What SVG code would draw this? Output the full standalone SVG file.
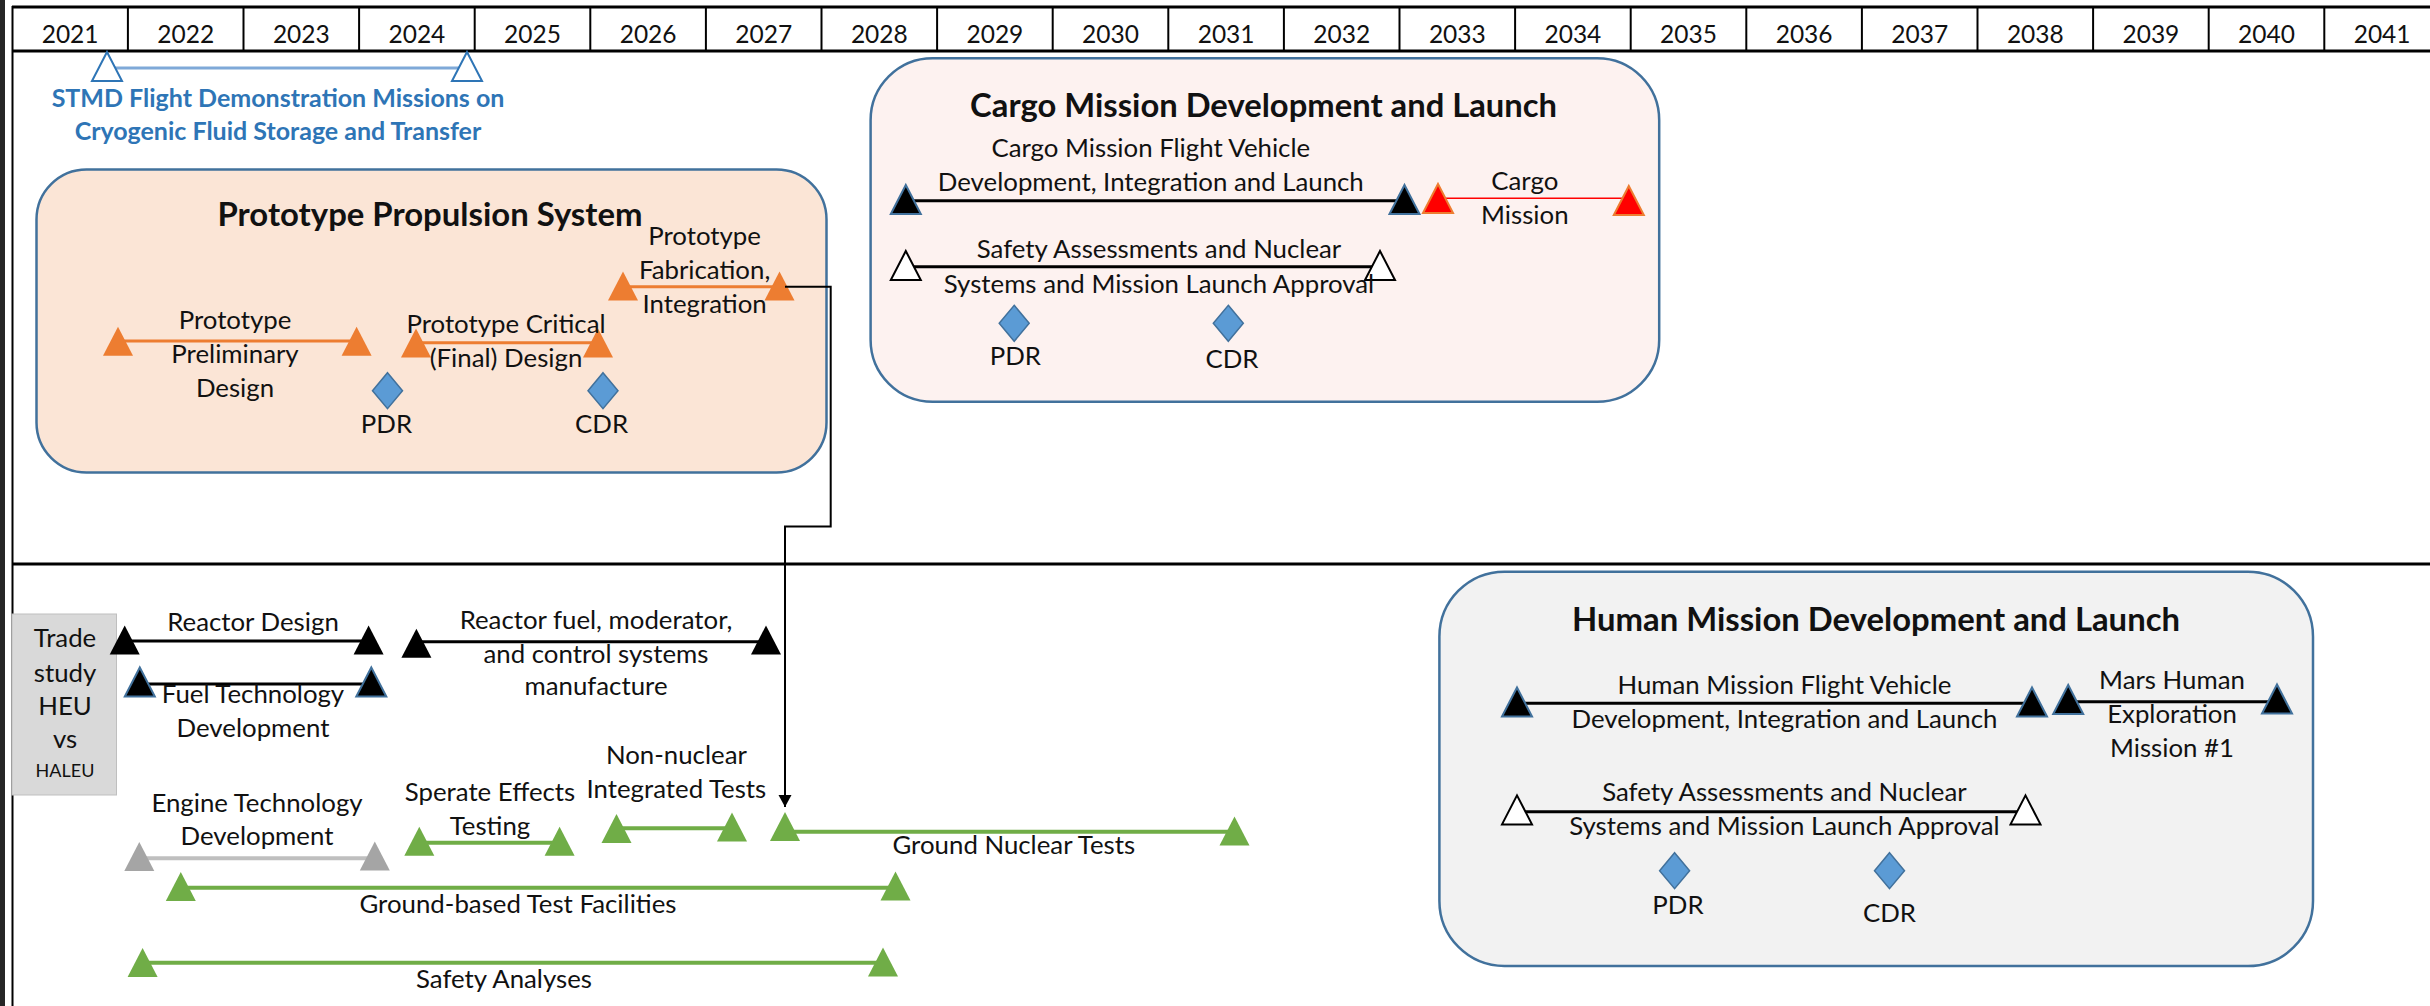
<svg xmlns="http://www.w3.org/2000/svg" xmlns:xlink="http://www.w3.org/1999/xlink" width="2430" height="1006" viewBox="0 0 2430 1006">
<style>
text{font-family:Lato,"Liberation Sans",sans-serif;fill:#111;text-anchor:middle}
.yr{font-size:24.5px}
.lb{font-size:25.8px}
.tt{font-size:32px;font-weight:bold}
.st{font-size:25px;font-weight:bold;fill:#2e75b6}
.sm{font-size:18px}
.grid{stroke:#000;fill:none}
.org{fill:#ed7d31}
.grn{fill:#70ad47}
.gry{fill:#a5a5a5}
.blk{fill:#000}
.bkb{fill:#000;stroke:#41719c;stroke-width:2}
.hol{fill:#fff;stroke:#000;stroke-width:2}
.hob{fill:#fff;stroke:#2e75b6;stroke-width:2}
.red{fill:#ff0000;stroke:#ed7d31;stroke-width:2}
.dia{fill:#5b9bd5;stroke:#41719c;stroke-width:1.5}
.box{stroke:#41719c;stroke-width:2.5}
.ln{fill:none;stroke-width:3}
</style>
<defs>
<path id="tri" d="M0,-15 L15,14 L-15,14 Z"/>
<path id="dia" d="M0,-18 L15,0 L0,18 L-15,0 Z"/>
<marker id="arr" markerUnits="userSpaceOnUse" markerWidth="14" markerHeight="14" viewBox="0 0 14 14" refX="12" refY="7" orient="auto">
<path d="M0,0.5 L12,7 L0,13.5 Z" fill="#000"/>
</marker>
</defs>
<rect width="2430" height="1006" fill="#fff"/>
<g id="frame">
<rect x="0" y="0" width="5" height="1006" fill="#262626"/>
<line class="grid" x1="12.5" y1="6" x2="12.5" y2="1006" stroke-width="2"/>
<line class="grid" x1="12" y1="7" x2="2430" y2="7" stroke-width="3"/>
<line class="grid" x1="12" y1="51" x2="2430" y2="51" stroke-width="3"/>
<line class="grid" x1="12" y1="564" x2="2430" y2="564" stroke-width="3"/>
<g stroke="#000" stroke-width="2">
<line x1="127.9" y1="7" x2="127.9" y2="51"/><line x1="243.5" y1="7" x2="243.5" y2="51"/><line x1="359.1" y1="7" x2="359.1" y2="51"/><line x1="474.7" y1="7" x2="474.7" y2="51"/><line x1="590.3" y1="7" x2="590.3" y2="51"/><line x1="705.9" y1="7" x2="705.9" y2="51"/><line x1="821.5" y1="7" x2="821.5" y2="51"/><line x1="937.1" y1="7" x2="937.1" y2="51"/><line x1="1052.7" y1="7" x2="1052.7" y2="51"/><line x1="1168.3" y1="7" x2="1168.3" y2="51"/><line x1="1283.9" y1="7" x2="1283.9" y2="51"/><line x1="1399.5" y1="7" x2="1399.5" y2="51"/><line x1="1515.1" y1="7" x2="1515.1" y2="51"/><line x1="1630.7" y1="7" x2="1630.7" y2="51"/><line x1="1746.3" y1="7" x2="1746.3" y2="51"/><line x1="1861.9" y1="7" x2="1861.9" y2="51"/><line x1="1977.5" y1="7" x2="1977.5" y2="51"/><line x1="2093.1" y1="7" x2="2093.1" y2="51"/><line x1="2208.7" y1="7" x2="2208.7" y2="51"/><line x1="2324.3" y1="7" x2="2324.3" y2="51"/>
</g>
<g>
<text x="70.1" y="43" class="yr">2021</text><text x="185.7" y="43" class="yr">2022</text><text x="301.3" y="43" class="yr">2023</text><text x="416.9" y="43" class="yr">2024</text><text x="532.5" y="43" class="yr">2025</text><text x="648.1" y="43" class="yr">2026</text><text x="763.7" y="43" class="yr">2027</text><text x="879.3" y="43" class="yr">2028</text><text x="994.9" y="43" class="yr">2029</text><text x="1110.5" y="43" class="yr">2030</text><text x="1226.1" y="43" class="yr">2031</text><text x="1341.7" y="43" class="yr">2032</text><text x="1457.3" y="43" class="yr">2033</text><text x="1572.9" y="43" class="yr">2034</text><text x="1688.5" y="43" class="yr">2035</text><text x="1804.1" y="43" class="yr">2036</text><text x="1919.7" y="43" class="yr">2037</text><text x="2035.3" y="43" class="yr">2038</text><text x="2150.9" y="43" class="yr">2039</text><text x="2266.5" y="43" class="yr">2040</text><text x="2382.1" y="43" class="yr">2041</text>
</g>
</g>

<g id="stmd">
<line x1="107" y1="68" x2="467" y2="68" stroke="#7fa9d8" stroke-width="3"/>
<use xlink:href="#tri" x="107" y="67" class="hob"/>
<use xlink:href="#tri" x="467" y="67" class="hob"/>
<text x="278" y="107" class="st">STMD Flight Demonstration Missions on</text>
<text x="278" y="139.5" class="st">Cryogenic Fluid Storage and Transfer</text>
</g>

<g id="prototype">
<rect x="36.5" y="169.5" width="790" height="303" rx="50" fill="#fbe5d6" class="box"/>
<text x="430" y="226" class="tt" textLength="425" lengthAdjust="spacingAndGlyphs">Prototype Propulsion System</text>
<line x1="118" y1="341" x2="357" y2="341" stroke="#ed7d31" class="ln"/>
<use xlink:href="#tri" x="118" y="341.7" class="org"/>
<use xlink:href="#tri" x="356.6" y="341.7" class="org"/>
<text x="235" y="329" class="lb">Prototype</text>
<text x="235" y="363" class="lb">Preliminary</text>
<text x="235" y="397" class="lb">Design</text>
<line x1="416" y1="342.7" x2="598" y2="342.7" stroke="#ed7d31" class="ln"/>
<use xlink:href="#tri" x="416" y="343.5" class="org"/>
<use xlink:href="#tri" x="598" y="343.5" class="org"/>
<text x="506" y="333" class="lb">Prototype Critical</text>
<text x="506" y="366.7" class="lb">(Final) Design</text>
<line x1="623" y1="286.7" x2="779" y2="286.7" stroke="#ed7d31" class="ln"/>
<use xlink:href="#tri" x="623" y="286.5" class="org"/>
<use xlink:href="#tri" x="779.5" y="286.5" class="org"/>
<text x="704.6" y="245" class="lb">Prototype</text>
<text x="704.6" y="279.3" class="lb">Fabrication,</text>
<text x="704.6" y="312.7" class="lb">Integration</text>
<use xlink:href="#dia" x="387.5" y="390.7" class="dia"/>
<use xlink:href="#dia" x="603" y="390.7" class="dia"/>
<text x="386.5" y="433" class="lb">PDR</text>
<text x="601.6" y="433" class="lb">CDR</text>
</g>

<g id="cargo">
<rect x="870.6" y="58.3" width="788.6" height="343.4" rx="62" fill="#fdf2f0" class="box"/>
<text x="1263.6" y="116.7" class="tt" textLength="587" lengthAdjust="spacingAndGlyphs">Cargo Mission Development and Launch</text>
<text x="1150.8" y="156.7" class="lb">Cargo Mission Flight Vehicle</text>
<text x="1150.8" y="190.7" class="lb">Development, Integration and Launch</text>
<line x1="906" y1="200.7" x2="1404" y2="200.7" stroke="#000" class="ln"/>
<use xlink:href="#tri" x="905.8" y="200" class="bkb"/>
<use xlink:href="#tri" x="1404.5" y="200" class="bkb"/>
<line x1="1438" y1="198.3" x2="1629" y2="198.3" stroke="#ff0000" stroke-width="1.5"/>
<use xlink:href="#tri" x="1438" y="199" class="red"/>
<use xlink:href="#tri" x="1628.8" y="201" class="red"/>
<text x="1524.8" y="190" class="lb">Cargo</text>
<text x="1524.8" y="224" class="lb">Mission</text>
<line x1="906" y1="266.7" x2="1380" y2="266.7" stroke="#000" class="ln"/>
<use xlink:href="#tri" x="905.8" y="266" class="hol"/>
<use xlink:href="#tri" x="1380" y="266" class="hol"/>
<text x="1159" y="258.3" class="lb">Safety Assessments and Nuclear</text>
<text x="1159" y="292.7" class="lb">Systems and Mission Launch Approval</text>
<use xlink:href="#dia" x="1014.2" y="323.3" class="dia"/>
<use xlink:href="#dia" x="1228.3" y="323.3" class="dia"/>
<text x="1015.3" y="365" class="lb">PDR</text>
<text x="1232" y="368.3" class="lb">CDR</text>
</g>

<g id="trade-study">
<rect x="12" y="614" width="104.5" height="181" fill="#d9d9d9" stroke="#bfbfbf" stroke-width="1"/>
<text x="65" y="647.3" class="lb">Trade</text>
<text x="65" y="681.7" class="lb">study</text>
<text x="65" y="715" class="lb">HEU</text>
<text x="65" y="748.3" class="lb">vs</text>
<text x="65" y="777.3" class="sm">HALEU</text>
</g>

<g id="reactor-design">
<line x1="125" y1="641" x2="368" y2="641" stroke="#000" class="ln"/>
<use xlink:href="#tri" x="124.7" y="640.5" class="blk"/>
<use xlink:href="#tri" x="368.6" y="640.5" class="blk"/>
<text x="253" y="630.7" class="lb">Reactor Design</text>
</g>

<g id="fuel-technology">
<line x1="140" y1="684" x2="371" y2="684" stroke="#000" class="ln"/>
<use xlink:href="#tri" x="139.8" y="682.5" class="bkb"/>
<use xlink:href="#tri" x="371.3" y="682.5" class="bkb"/>
<text x="253" y="703.3" class="lb">Fuel Technology</text>
<text x="253" y="736.7" class="lb">Development</text>
</g>

<g id="reactor-fuel">
<line x1="416" y1="641.7" x2="766" y2="641.7" stroke="#000" class="ln"/>
<use xlink:href="#tri" x="416.4" y="643.7" class="blk"/>
<use xlink:href="#tri" x="766" y="640.5" class="blk"/>
<text x="596" y="629.3" class="lb">Reactor fuel, moderator,</text>
<text x="596" y="662.7" class="lb">and control systems</text>
<text x="596" y="695" class="lb">manufacture</text>
</g>

<g id="engine-technology">
<line x1="139" y1="858.3" x2="375" y2="858.3" stroke="#bfbfbf" stroke-width="4"/>
<use xlink:href="#tri" x="139.3" y="857" class="gry"/>
<use xlink:href="#tri" x="374.8" y="856.4" class="gry"/>
<text x="257" y="811.7" class="lb">Engine Technology</text>
<text x="257" y="845" class="lb">Development</text>
</g>

<g id="separate-effects">
<line x1="419" y1="842.7" x2="560" y2="842.7" stroke="#70ad47" stroke-width="4"/>
<use xlink:href="#tri" x="419.3" y="841.8" class="grn"/>
<use xlink:href="#tri" x="559.6" y="841.7" class="grn"/>
<text x="490" y="800.7" class="lb">Sperate Effects</text>
<text x="490" y="835" class="lb">Testing</text>
</g>

<g id="non-nuclear">
<line x1="616" y1="828.3" x2="732" y2="828.3" stroke="#70ad47" stroke-width="4"/>
<use xlink:href="#tri" x="616.5" y="828.9" class="grn"/>
<use xlink:href="#tri" x="732" y="827.5" class="grn"/>
<text x="676.4" y="764" class="lb">Non-nuclear</text>
<text x="676.4" y="798.3" class="lb">Integrated Tests</text>
</g>

<g id="ground-nuclear">
<line x1="785" y1="831.7" x2="1234" y2="831.7" stroke="#70ad47" stroke-width="4"/>
<use xlink:href="#tri" x="785" y="827" class="grn"/>
<use xlink:href="#tri" x="1234.5" y="831.5" class="grn"/>
<text x="1013.8" y="854" class="lb">Ground Nuclear Tests</text>
</g>

<g id="ground-facilities">
<line x1="181" y1="887.7" x2="895" y2="887.7" stroke="#70ad47" stroke-width="4"/>
<use xlink:href="#tri" x="180.8" y="887" class="grn"/>
<use xlink:href="#tri" x="895.5" y="886.4" class="grn"/>
<text x="518" y="913" class="lb">Ground-based Test Facilities</text>
</g>

<g id="safety-analyses">
<line x1="143" y1="962.7" x2="883" y2="962.7" stroke="#70ad47" stroke-width="4"/>
<use xlink:href="#tri" x="142.6" y="963" class="grn"/>
<use xlink:href="#tri" x="883" y="962.4" class="grn"/>
<text x="504" y="988" class="lb">Safety Analyses</text>
</g>

<g id="human">
<rect x="1439.4" y="571.7" width="873.6" height="394.3" rx="65" fill="#f2f2f2" class="box"/>
<text x="1876" y="630.7" class="tt" textLength="608" lengthAdjust="spacingAndGlyphs">Human Mission Development and Launch</text>
<text x="1784.4" y="694" class="lb">Human Mission Flight Vehicle</text>
<text x="1784.4" y="728.3" class="lb">Development, Integration and Launch</text>
<line x1="1517" y1="703.3" x2="2032" y2="703.3" stroke="#000" class="ln"/>
<use xlink:href="#tri" x="1517" y="702.5" class="bkb"/>
<use xlink:href="#tri" x="2032" y="702.5" class="bkb"/>
<line x1="2068" y1="701.7" x2="2277" y2="701.7" stroke="#000" class="ln"/>
<use xlink:href="#tri" x="2068.2" y="700" class="bkb"/>
<use xlink:href="#tri" x="2277" y="699.5" class="bkb"/>
<text x="2172" y="689.3" class="lb">Mars Human</text>
<text x="2172" y="723.3" class="lb">Exploration</text>
<text x="2172" y="756.7" class="lb">Mission #1</text>
<line x1="1517" y1="811.7" x2="2025" y2="811.7" stroke="#000" class="ln"/>
<use xlink:href="#tri" x="1517" y="810.4" class="hol"/>
<use xlink:href="#tri" x="2025.5" y="810.4" class="hol"/>
<text x="1784.4" y="800.7" class="lb">Safety Assessments and Nuclear</text>
<text x="1784.4" y="835" class="lb">Systems and Mission Launch Approval</text>
<use xlink:href="#dia" x="1674.6" y="870.7" class="dia"/>
<use xlink:href="#dia" x="1889.5" y="870.7" class="dia"/>
<text x="1678" y="914" class="lb">PDR</text>
<text x="1889.5" y="921.7" class="lb">CDR</text>
</g>

<g id="connectors">
<path d="M785,286.8 H830.7 V526.4 H785 V807" fill="none" stroke="#000" stroke-width="2" marker-end="url(#arr)"/>
</g>
</svg>
